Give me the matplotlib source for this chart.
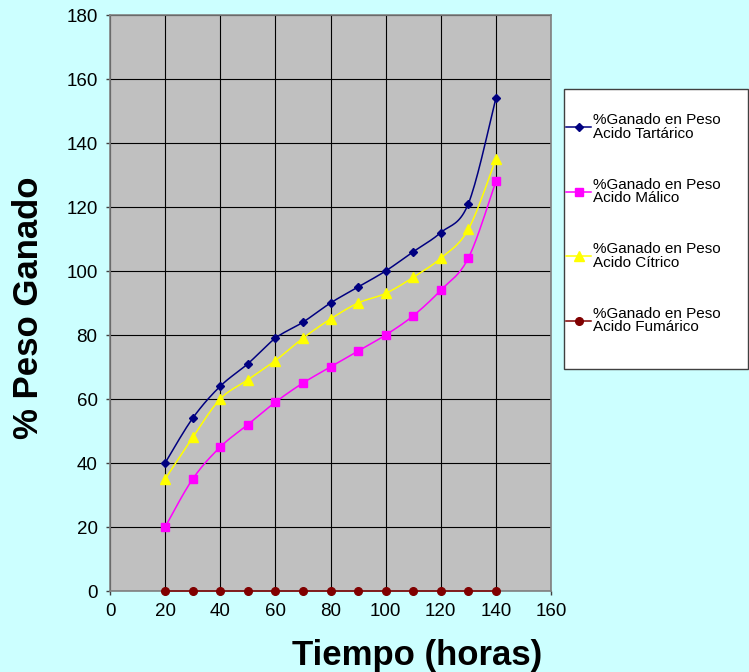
import numpy as np
import matplotlib
matplotlib.use('Agg')
import matplotlib.pyplot as plt
from matplotlib.lines import Line2D
from matplotlib.patches import Rectangle

plt.rcParams['font.family'] = ['Liberation Sans', 'DejaVu Sans']

# datos
horas = [20, 30, 40, 50, 60, 70, 80, 90, 100, 110, 120, 130, 140]
tartarico = [40, 54, 64, 71, 79, 84, 90, 95, 100, 106, 112, 121, 154]
malico = [20, 35, 45, 52, 59, 65, 70, 75, 80, 86, 94, 104, 128]
citrico = [35, 48, 60, 66, 72, 79, 85, 90, 93, 98, 104, 113, 135]
fumarico = [0, 0, 0, 0, 0, 0, 0, 0, 0, 0, 0, 0, 0]

etiquetas = ['%Ganado en Peso\nAcido Tartárico',
             '%Ganado en Peso\nAcido Málico',
             '%Ganado en Peso\nAcido Cítrico',
             '%Ganado en Peso\nAcido Fumárico']
colores = ['#000080', '#FF00FF', '#FFFF00', '#800000']
marcadores = ['D', 's', '^', 'o']
tamanos = [4.5, 6, 6.5, 5.5]


# curva suavizada tipo Excel (Bezier por tramos)
def suavizar(xs, ys, n=20):
    pts = np.column_stack([xs, ys]).astype(float)
    p = np.vstack([pts[0], pts, pts[-1]])
    out = []
    t = np.linspace(0, 1, n)[:, None]
    for i in range(len(pts) - 1):
        p0, p1, p2, p3 = p[i], p[i + 1], p[i + 2], p[i + 3]
        c1 = p1 + (p2 - p0) / 6
        c2 = p2 - (p3 - p1) / 6
        seg = (1 - t)**3 * p1 + 3 * (1 - t)**2 * t * c1 + 3 * (1 - t) * t**2 * c2 + t**3 * p2
        out.append(seg if i == 0 else seg[1:])
    return np.vstack(out)


fig = plt.figure(figsize=(7.49, 6.72), dpi=100, facecolor='#CCFFFF')
ax = fig.add_axes([110 / 749, 81 / 672, 441 / 749, 576 / 672])
ax.set_facecolor('#C0C0C0')

series = [tartarico, malico, citrico, fumarico]
for ys, c, m, s in zip(series, colores, marcadores, tamanos):
    curva = suavizar(horas, ys)
    ax.plot(curva[:, 0], curva[:, 1], color=c, lw=1.1, zorder=3, clip_on=False)
    ax.plot(horas, ys, ls='none', marker=m, ms=s, color=c, zorder=4, clip_on=False)

ax.set_xlim(0, 160)
ax.set_ylim(0, 180)
ax.set_xticks(range(0, 161, 20))
ax.set_yticks(range(0, 181, 20))
ax.grid(True, color='black', lw=0.8)
ax.set_axisbelow(True)
for sp in ax.spines.values():
    sp.set_color('#808080')
    sp.set_linewidth(1.2)
ax.tick_params(direction='out', length=3, width=1, color='#404040',
               labelsize=13.5, pad=6)

fig.text(29 / 749, 1 - 308 / 672, '% Peso Ganado', rotation=90,
         fontsize=25, fontweight='bold', ha='center', va='center')
fig.text(417 / 749, 1 - 655 / 672, 'Tiempo (horas)',
         fontsize=25, fontweight='bold', ha='center', va='center')

# leyenda a mano
caja = Rectangle((564 / 749, 1 - 369 / 672), 184 / 749, 280 / 672,
                 transform=fig.transFigure, facecolor='white',
                 edgecolor='#404040', lw=1)
fig.patches.append(caja)
for i, (lab, c, m, s) in enumerate(zip(etiquetas, colores, marcadores, tamanos)):
    yc = 1 - (127 + 64.5 * i) / 672
    fig.lines.append(Line2D([566 / 749, 591 / 749], [yc, yc], color=c, lw=1.1,
                            transform=fig.transFigure))
    fig.lines.append(Line2D([579 / 749], [yc], marker=m, ms=s, color=c,
                            transform=fig.transFigure))
    fig.text(593 / 749, yc, lab, fontsize=11, va='center', ha='left',
             linespacing=0.95)

fig.savefig('out.png', dpi=100, facecolor=fig.get_facecolor())
